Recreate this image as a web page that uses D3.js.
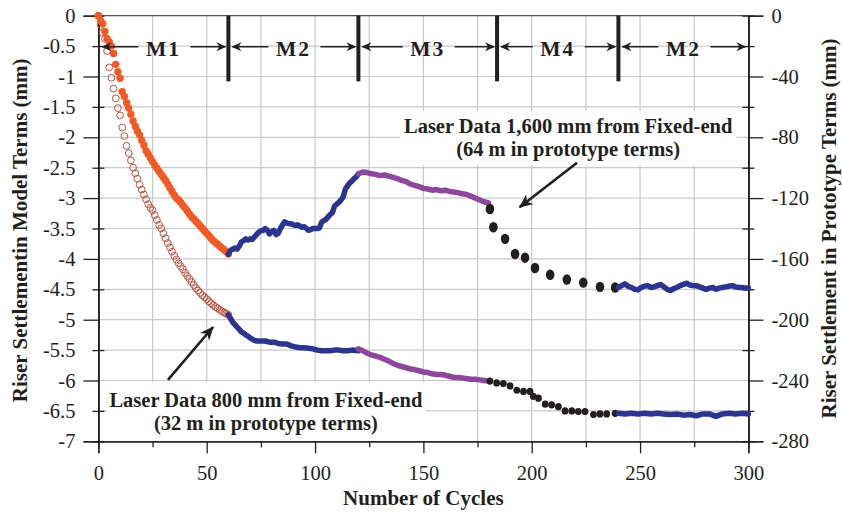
<!DOCTYPE html>
<html>
<head>
<meta charset="utf-8">
<script src="https://cdn.jsdelivr.net/npm/d3@7"></script>
<style>
  body { margin: 0; background: #fff; }
  svg text { font-family: "Liberation Serif", "Times New Roman", serif; fill: #231f20; }
  .tick text { font-size: 20.5px; }
  .axis path, .axis line { stroke: #231f20; stroke-width: 1.3; }
  .grid line { stroke: #c9c9c9; stroke-width: 1.2; }
</style>
</head>
<body>
<div id="chart"></div>
<script>
// --- data ---
var phaseNames = ['M1', 'M2', 'M3', 'M4', 'M2'];
var phaseBounds = [0, 60, 120, 184, 240, 300];

// M1 phase, one reading per cycle (0..60)
var m1Cycles = d3.range(0, 61);
var top1600M1 = [0, -0.08, -0.13, -0.26, -0.38, -0.43, -0.5, -0.62, -0.8, -0.92, -1.03,
  -1.25, -1.33, -1.43, -1.52, -1.62, -1.73, -1.82, -1.9, -1.96, -2.05,
  -2.13, -2.22, -2.28, -2.34, -2.4, -2.46, -2.51, -2.56, -2.61, -2.66,
  -2.71, -2.77, -2.83, -2.89, -2.95, -3.0, -3.03, -3.07, -3.12, -3.16,
  -3.21, -3.26, -3.31, -3.34, -3.38, -3.42, -3.46, -3.5, -3.54, -3.58,
  -3.62, -3.66, -3.7, -3.73, -3.76, -3.79, -3.82, -3.85, -3.88, -3.92];
var bot800M1 = [0, -0.15, -0.28, -0.38, -0.58, -0.85, -1.02, -1.2, -1.36, -1.52, -1.64,
  -1.84, -1.98, -2.14, -2.26, -2.38, -2.5, -2.59, -2.68, -2.78, -2.86,
  -2.94, -3.02, -3.1, -3.16, -3.2, -3.28, -3.36, -3.44, -3.5, -3.58,
  -3.66, -3.74, -3.81, -3.88, -3.95, -4.01, -4.07, -4.12, -4.17, -4.23,
  -4.28, -4.33, -4.38, -4.43, -4.48, -4.52, -4.56, -4.6, -4.63, -4.66,
  -4.7, -4.73, -4.76, -4.79, -4.81, -4.84, -4.86, -4.88, -4.9, -4.92];

// later phases as [cycle, settlement mm]
var top1600M2a = [[60,-3.92],[61,-3.86],[62,-3.84],[63,-3.82],[64,-3.84],[65,-3.79],[66,-3.72],[67,-3.7],[68,-3.67],[69,-3.69],
  [70,-3.67],[71,-3.68],[72,-3.64],[73,-3.6],[74,-3.56],[75,-3.54],[76,-3.53],[77,-3.5],[78,-3.53],[79,-3.59],
  [80,-3.55],[81,-3.53],[82,-3.6],[83,-3.58],[84,-3.5],[85,-3.44],[86,-3.39],[87,-3.41],[88,-3.42],[89,-3.42],
  [90,-3.44],[91,-3.45],[92,-3.44],[93,-3.46],[94,-3.48],[95,-3.47],[96,-3.5],[97,-3.53],[98,-3.52],[99,-3.5],
  [100,-3.5],[101,-3.5],[102,-3.49],[103,-3.4],[104,-3.37],[105,-3.35],[106,-3.31],[107,-3.27],[108,-3.24],[109,-3.13],
  [110,-3.1],[111,-3.07],[112,-3.03],[113,-2.98],[114,-2.85],[115,-2.8],[116,-2.75],[117,-2.72],[118,-2.68],[119,-2.65],[120,-2.6]];
var top1600M3 = [[120,-2.6],[122,-2.57],[124,-2.58],[126,-2.6],[128,-2.61],[130,-2.63],[132,-2.62],[134,-2.64],[136,-2.66],[138,-2.68],
  [140,-2.71],[142,-2.73],[144,-2.77],[146,-2.79],[148,-2.81],[150,-2.84],[152,-2.85],[154,-2.87],[156,-2.86],[158,-2.88],
  [160,-2.87],[162,-2.89],[164,-2.9],[166,-2.91],[168,-2.93],[170,-2.94],[172,-2.97],[174,-3.0],[176,-3.03],[178,-3.06],[180,-3.08]];
var top1600M4 = [[180.7,-3.18],[182.3,-3.48],[187.7,-3.67],[192.3,-3.92],[196.9,-3.98],[201.5,-4.15],
  [208.5,-4.26],[216.2,-4.34],[223.8,-4.39],[231.5,-4.46],[238.5,-4.47]];
var top1600M2b = [[240,-4.47],[241.5,-4.44],[243,-4.41],[244.5,-4.45],[246,-4.47],[247.5,-4.5],[249,-4.51],[250.5,-4.47],
  [252,-4.45],[253.5,-4.44],[255,-4.47],[256.5,-4.46],[258,-4.44],[259.5,-4.42],[261,-4.46],[262.5,-4.5],[264,-4.52],
  [265.5,-4.49],[267,-4.47],[268.5,-4.44],[270,-4.42],[271.5,-4.4],[273,-4.43],[274.5,-4.44],[276,-4.44],[277.5,-4.46],
  [279,-4.48],[280.5,-4.5],[282,-4.48],[283.5,-4.47],[285,-4.5],[286.5,-4.48],[288,-4.47],[289.5,-4.46],[291,-4.45],
  [292.5,-4.44],[294,-4.46],[295.5,-4.47],[297,-4.47],[298.5,-4.48],[300,-4.48]];

var bot800M2a = [[60,-4.92],[61,-4.98],[62,-5.04],[63,-5.08],[64,-5.12],[65,-5.16],[66,-5.2],[67,-5.22],[68,-5.25],[69,-5.27],
  [70,-5.3],[71,-5.32],[72,-5.34],[73,-5.35],[75,-5.35],[77,-5.35],[79,-5.37],[81,-5.37],[83,-5.39],[85,-5.4],
  [87,-5.4],[89,-5.43],[91,-5.45],[93,-5.46],[95,-5.46],[97,-5.47],[99,-5.48],[101,-5.5],[103,-5.51],[105,-5.51],
  [107,-5.51],[109,-5.5],[111,-5.5],[113,-5.51],[115,-5.51],[117,-5.5],[120,-5.51]];
var bot800M3 = [[120,-5.48],[122,-5.51],[124,-5.55],[126,-5.58],[128,-5.6],[130,-5.62],[132,-5.65],[134,-5.68],[136,-5.72],[138,-5.75],
  [140,-5.77],[142,-5.79],[144,-5.81],[146,-5.82],[148,-5.84],[150,-5.86],[152,-5.87],[154,-5.89],[156,-5.9],[158,-5.9],
  [160,-5.91],[162,-5.93],[164,-5.95],[166,-5.95],[168,-5.96],[170,-5.97],[172,-5.98],[174,-5.98],[176,-5.99],[178,-6.0],[180,-6.01]];
var bot800M4 = [[180.7,-6.01],[183.8,-6.04],[186.9,-6.05],[190,-6.09],[193.1,-6.16],[196.2,-6.18],[199.2,-6.18],
  [200.7,-6.26],[203.1,-6.29],[206.2,-6.39],[209.2,-6.4],[212.3,-6.43],[215.4,-6.5],[218.5,-6.5],[221.5,-6.51],
  [224.6,-6.51],[228.5,-6.56],[231.5,-6.55],[234.6,-6.55],[238.5,-6.54]];
var bot800M2b = [[240,-6.54],[243,-6.55],[246,-6.54],[249,-6.55],[252,-6.54],[255,-6.55],[258,-6.54],[261,-6.55],
  [264,-6.56],[267,-6.55],[270,-6.57],[273,-6.56],[276,-6.58],[279,-6.55],[282,-6.55],[285,-6.59],[288,-6.55],
  [291,-6.54],[294,-6.55],[297,-6.54],[300,-6.55]];

// --- layout ---
var margin = { top: 15.7, left: 98.4 };
var width = 650, height = 425.6;
var colors = { orange: '#f15a24', brown: '#b9513d', blue: '#2b3590', purple: '#8e479c', black: '#231f20' };

var x = d3.scaleLinear().domain([0, 300]).range([margin.left, margin.left + width]);
var y = d3.scaleLinear().domain([-7, 0]).range([margin.top + height, margin.top]);
var y2 = d3.scaleLinear().domain([-280, 0]).range([margin.top + height, margin.top]);

var svg = d3.select('#chart').append('svg').attr('width', 842).attr('height', 515);

var fmt = function (d) { return String(+d.toFixed(1)); };

// grid
var grid = svg.append('g').classed('grid', true);
grid.selectAll('.gv').data(d3.range(25, 300, 25)).enter().append('line')
  .attr('x1', function (d) { return x(d); }).attr('x2', function (d) { return x(d); })
  .attr('y1', y(0)).attr('y2', y(-7));
grid.selectAll('.gh').data(d3.range(-6.5, 0, 0.5)).enter().append('line')
  .attr('y1', function (d) { return y(d); }).attr('y2', function (d) { return y(d); })
  .attr('x1', x(0)).attr('x2', x(300));
svg.append('line').attr('x1', x(0)).attr('x2', x(300)).attr('y1', y(0)).attr('y2', y(0))
  .attr('stroke', '#555').attr('stroke-width', 1.3);

// annotation boxes go above the grid, below the data
var noteLayer = svg.append('g').classed('notes', true);

// axes
var intTicks = d3.range(-7, 0.01, 1), halfTicks = d3.range(-6.5, 0, 1);
svg.append('g').classed('axis', true).attr('transform', 'translate(' + x(0) + ',0)')
  .call(d3.axisLeft(y).tickValues(intTicks).tickSize(15).tickPadding(8).tickFormat(fmt));
svg.append('g').classed('axis', true).attr('transform', 'translate(' + x(0) + ',0)')
  .call(d3.axisLeft(y).tickValues(halfTicks).tickSize(6).tickPadding(17).tickFormat(fmt));
svg.append('g').classed('axis', true).attr('transform', 'translate(' + x(0) + ',0)')
  .call(d3.axisRight(y).tickValues(halfTicks).tickSize(6).tickFormat(''));

svg.append('g').classed('axis', true).attr('transform', 'translate(' + x(300) + ',0)')
  .call(d3.axisRight(y2).tickValues(d3.range(-280, 1, 40)).tickSize(15).tickPadding(8).tickFormat(fmt));
svg.append('g').classed('axis', true).attr('transform', 'translate(' + x(300) + ',0)')
  .call(d3.axisRight(y2).tickValues(d3.range(-260, 0, 40)).tickSize(6).tickFormat(''));
svg.append('g').classed('axis', true).attr('transform', 'translate(' + x(300) + ',0)')
  .call(d3.axisLeft(y2).tickValues(d3.range(-260, 0, 40)).tickSize(6).tickFormat(''));

svg.append('g').classed('axis', true).attr('transform', 'translate(0,' + y(-7) + ')')
  .call(d3.axisBottom(x).tickValues(d3.range(0, 301, 50)).tickSize(12).tickPadding(12).tickFormat(fmt));
svg.append('g').classed('axis', true).attr('transform', 'translate(0,' + y(-7) + ')')
  .call(d3.axisBottom(x).tickValues(d3.range(25, 300, 50)).tickSize(6).tickFormat(''));

svg.selectAll('.axis .domain').attr('stroke-width', 1.5);

// axis titles
svg.append('text').text('Number of Cycles').attr('x', x(150)).attr('y', 505)
  .attr('text-anchor', 'middle').style('font-size', '21px').style('font-weight', 'bold');
svg.append('text').text('Riser Settlementin Model Terms (mm)')
  .attr('transform', 'translate(27,' + y(-3.53) + ') rotate(-90)')
  .attr('text-anchor', 'middle').style('font-size', '21px').style('font-weight', 'bold');
svg.append('text').text('Riser Settlement in Prototype Terms (mm)')
  .attr('transform', 'translate(836,' + y(-3.5) + ') rotate(-90)')
  .attr('text-anchor', 'middle').style('font-size', '21px').style('font-weight', 'bold');

// arrow markers
var defs = svg.append('defs');
defs.append('marker').attr('id', 'headSmall').attr('viewBox', '-10 -5 12 10')
  .attr('markerWidth', 12).attr('markerHeight', 10).attr('markerUnits', 'userSpaceOnUse')
  .attr('orient', 'auto').append('path').attr('d', 'M-9,-4.5 L1,0 L-9,4.5 L-6,0 Z').attr('fill', colors.black);
defs.append('marker').attr('id', 'headBig').attr('viewBox', '-14 -7 16 14')
  .attr('markerWidth', 16).attr('markerHeight', 14).attr('markerUnits', 'userSpaceOnUse')
  .attr('orient', 'auto').append('path').attr('d', 'M-13,-6 L1,0 L-13,6 L-9,0 Z').attr('fill', colors.black);

// series
var line = d3.line().x(function (d) { return x(d[0]); }).y(function (d) { return y(d[1]); });
function drawLine(data, color) {
  svg.append('path').datum(data).attr('d', line).attr('fill', 'none')
    .attr('stroke', color).attr('stroke-width', 5.5)
    .attr('stroke-linejoin', 'round').attr('stroke-linecap', 'round');
}
function drawDots(data, r, ry) {
  svg.append('g').selectAll('ellipse').data(data).enter().append('ellipse')
    .attr('cx', function (d) { return x(d[0]); }).attr('cy', function (d) { return y(d[1]); })
    .attr('rx', r).attr('ry', ry).attr('fill', colors.black);
}

svg.append('g').selectAll('circle').data(m1Cycles).enter().append('circle')
  .attr('cx', function (d) { return x(d); }).attr('cy', function (d, i) { return y(bot800M1[i]); })
  .attr('r', 3.4).attr('fill', 'none').attr('stroke', colors.brown).attr('stroke-width', 1);
svg.append('g').selectAll('circle').data(m1Cycles).enter().append('circle')
  .attr('cx', function (d) { return x(d); }).attr('cy', function (d, i) { return y(top1600M1[i]); })
  .attr('r', 3.7).attr('fill', colors.orange);

drawLine(top1600M2a, colors.blue);
drawLine(top1600M3, colors.purple);
drawDots(top1600M4, 4.3, 5.2);
drawLine(top1600M2b, colors.blue);

drawLine(bot800M2a, colors.blue);
drawLine(bot800M3, colors.purple);
drawDots(bot800M4, 3.4, 3.6);
drawLine(bot800M2b, colors.blue);

// phase markers
var phases = svg.append('g').classed('phases', true);
phases.selectAll('line').data(phaseBounds.slice(1, 5)).enter().append('line')
  .attr('x1', function (d) { return x(d); }).attr('x2', function (d) { return x(d); })
  .attr('y1', y(0)).attr('y2', y(-1.08)).attr('stroke', colors.black).attr('stroke-width', 4);
phaseNames.forEach(function (name, i) {
  var a = x(phaseBounds[i]), b = x(phaseBounds[i + 1]), c = (a + b) / 2, ay = y(-0.51);
  phases.append('text').text(name).attr('x', c).attr('y', y(-0.66))
    .attr('text-anchor', 'middle').style('font-size', '21.5px').style('font-weight', 'bold')
    .style('letter-spacing', '2px');
  phases.append('line').attr('x1', c - 25).attr('x2', a + 4).attr('y1', ay).attr('y2', ay)
    .attr('stroke', colors.black).attr('stroke-width', 1.4).attr('marker-end', 'url(#headSmall)');
  phases.append('line').attr('x1', c + 27).attr('x2', b - 3).attr('y1', ay).attr('y2', ay)
    .attr('stroke', colors.black).attr('stroke-width', 1.4).attr('marker-end', 'url(#headSmall)');
});

// annotations
var notes = [
  { lines: ['Laser Data 1,600 mm from Fixed-end', '(64 m in prototype terms)'], cx: 216.8, y: [-1.93, -2.31],
    from: [220.9, -2.42], to: [194.4, -3.15], pad: [4, 4] },
  { lines: ['Laser Data 800 mm from Fixed-end', '(32 m in prototype terms)'], cx: 77.3, y: [-6.44, -6.82],
    from: [32.1, -5.99], to: [52.9, -5.12], pad: [3, 7] }
];
notes.forEach(function (n) {
  var g = noteLayer.append('g');
  var box = g.append('rect').attr('fill', '#fff');
  n.lines.forEach(function (t, i) {
    g.append('text').text(t).attr('x', x(n.cx)).attr('y', y(n.y[i]))
      .attr('text-anchor', 'middle').style('font-size', '20.5px').style('font-weight', 'bold');
  });
  var bb = g.node().getBBox();
  box.attr('x', bb.x - n.pad[0]).attr('y', bb.y - n.pad[1])
    .attr('width', bb.width + 2 * n.pad[0]).attr('height', bb.height + 2 * n.pad[1]);
  svg.append('line').attr('x1', x(n.from[0])).attr('y1', y(n.from[1]))
    .attr('x2', x(n.to[0])).attr('y2', y(n.to[1]))
    .attr('stroke', colors.black).attr('stroke-width', 2.6).attr('marker-end', 'url(#headBig)');
});
</script>
</body>
</html>
